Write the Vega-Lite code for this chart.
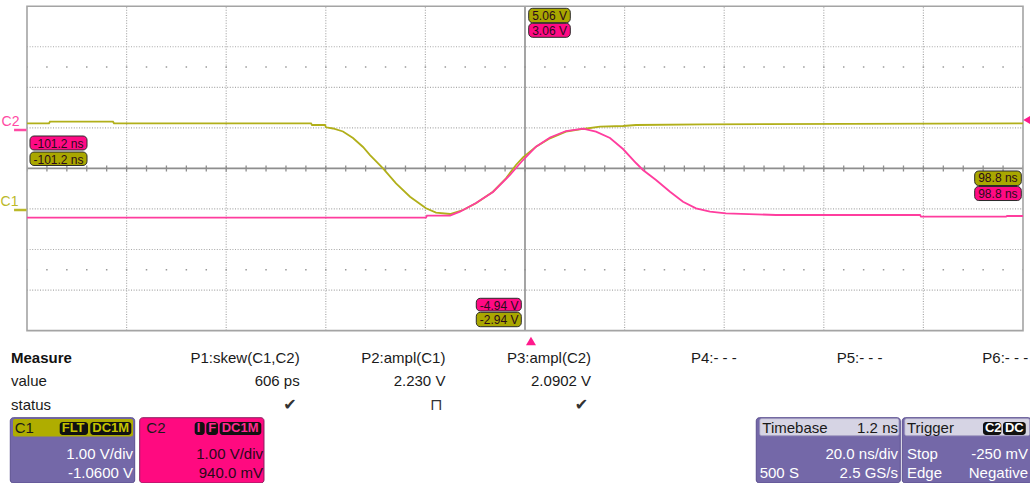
{
  "$schema": "https://vega.github.io/schema/vega-lite/v6.json",
  "background": "white",
  "padding": 0,
  "spacing": 0,
  "bounds": "flush",
  "config": {"view": {"stroke": null}, "font": "Liberation Sans", "text": {"font": "Liberation Sans"}},
  "resolve": {"scale": {"x": "independent", "y": "independent", "color": "independent", "fill": "independent"}},
  "datasets": {
    "vgrid": [{"t": -80}, {"t": -60}, {"t": -40}, {"t": -20}, {"t": 20}, {"t": 40}, {"t": 60}, {"t": 80}],
    "hgrid": [{"v": -3}, {"v": -2}, {"v": -1}, {"v": 1}, {"v": 2}, {"v": 3}],
    "dotrows": [{"v": 2.5}, {"v": -2.5}],
    "traces": [
      {"ch": "C1", "t": -100, "v": 1.112}, {"ch": "C1", "t": -95.58, "v": 1.112}, {"ch": "C1", "t": -95.38, "v": 1.152},
      {"ch": "C1", "t": -82.73, "v": 1.152}, {"ch": "C1", "t": -82.53, "v": 1.112}, {"ch": "C1", "t": -42.97, "v": 1.112},
      {"ch": "C1", "t": -42.77, "v": 1.07}, {"ch": "C1", "t": -40.16, "v": 1.07}, {"ch": "C1", "t": -39.96, "v": 1.014},
      {"ch": "C1", "t": -38.55, "v": 0.984}, {"ch": "C1", "t": -36.55, "v": 0.91}, {"ch": "C1", "t": -34.54, "v": 0.75},
      {"ch": "C1", "t": -32.53, "v": 0.528}, {"ch": "C1", "t": -31.12, "v": 0.33}, {"ch": "C1", "t": -28.51, "v": 0.002},
      {"ch": "C1", "t": -25.9, "v": -0.367}, {"ch": "C1", "t": -23.09, "v": -0.698}, {"ch": "C1", "t": -19.88, "v": -0.984},
      {"ch": "C1", "t": -17.87, "v": -1.092}, {"ch": "C1", "t": -15.06, "v": -1.125}, {"ch": "C1", "t": -12.45, "v": -1.026},
      {"ch": "C1", "t": -9.84, "v": -0.861}, {"ch": "C1", "t": -6.43, "v": -0.575}, {"ch": "C1", "t": -3.82, "v": -0.244},
      {"ch": "C1", "t": -1.81, "v": 0.084}, {"ch": "C1", "t": -0.4, "v": 0.274}, {"ch": "C1", "t": 2.21, "v": 0.535},
      {"ch": "C1", "t": 5.02, "v": 0.742}, {"ch": "C1", "t": 8.23, "v": 0.905}, {"ch": "C1", "t": 11.65, "v": 0.972},
      {"ch": "C1", "t": 15.06, "v": 1.028}, {"ch": "C1", "t": 19.68, "v": 1.046}, {"ch": "C1", "t": 22.29, "v": 1.07},
      {"ch": "C1", "t": 35.74, "v": 1.088}, {"ch": "C1", "t": 100, "v": 1.112},
      {"ch": "C2", "t": -100, "v": -1.216}, {"ch": "C2", "t": -19.88, "v": -1.216}, {"ch": "C2", "t": -19.68, "v": -1.166},
      {"ch": "C2", "t": -15.06, "v": -1.166}, {"ch": "C2", "t": -13.05, "v": -1.068}, {"ch": "C2", "t": -9.84, "v": -0.853},
      {"ch": "C2", "t": -6.43, "v": -0.582}, {"ch": "C2", "t": -3.01, "v": -0.163}, {"ch": "C2", "t": -0.4, "v": 0.207},
      {"ch": "C2", "t": 2.21, "v": 0.535}, {"ch": "C2", "t": 5.02, "v": 0.762}, {"ch": "C2", "t": 8.23, "v": 0.922},
      {"ch": "C2", "t": 11.65, "v": 0.979}, {"ch": "C2", "t": 14.26, "v": 0.905}, {"ch": "C2", "t": 17.07, "v": 0.75},
      {"ch": "C2", "t": 19.68, "v": 0.478}, {"ch": "C2", "t": 22.29, "v": 0.133}, {"ch": "C2", "t": 23.69, "v": -0.039},
      {"ch": "C2", "t": 26.31, "v": -0.286}, {"ch": "C2", "t": 29.12, "v": -0.575}, {"ch": "C2", "t": 31.73, "v": -0.821},
      {"ch": "C2", "t": 34.34, "v": -0.984}, {"ch": "C2", "t": 37.15, "v": -1.068}, {"ch": "C2", "t": 40.36, "v": -1.107},
      {"ch": "C2", "t": 50.4, "v": -1.149}, {"ch": "C2", "t": 79.32, "v": -1.149}, {"ch": "C2", "t": 79.52, "v": -1.191},
      {"ch": "C2", "t": 96.59, "v": -1.191}, {"ch": "C2", "t": 96.79, "v": -1.174}, {"ch": "C2", "t": 100, "v": -1.174}
    ],
    "chlabels": [
      {"ch": "C2", "text": "C2", "t": -103.3, "v": 1.144, "vm": 0.947},
      {"ch": "C1", "text": "C1", "t": -103.5, "v": -0.829, "vm": -1.026}
    ],
    "cursors": [
      {"ch": "C2", "text": "-101.2 ns", "t1": -99.4, "t2": -87.95, "v1": 0.799, "v2": 0.454},
      {"ch": "C1", "text": "-101.2 ns", "t1": -99.4, "t2": -87.95, "v1": 0.404, "v2": 0.072},
      {"ch": "C1", "text": "5.06 V", "t1": 0.743, "t2": 9.096, "v1": 3.948, "v2": 3.593},
      {"ch": "C2", "text": "3.06 V", "t1": 0.743, "t2": 9.096, "v1": 3.578, "v2": 3.233},
      {"ch": "C1", "text": "98.8 ns", "t1": 90.3, "t2": 99.66, "v1": -0.064, "v2": -0.422},
      {"ch": "C2", "text": "98.8 ns", "t1": 90.3, "t2": 99.66, "v1": -0.446, "v2": -0.792},
      {"ch": "C2", "text": "-4.94 V", "t1": -9.78, "t2": -0.743, "v1": -3.203, "v2": -3.517},
      {"ch": "C1", "text": "-2.94 V", "t1": -9.78, "t2": -0.743, "v1": -3.549, "v2": -3.904}
    ],
    "measure": [
      {"col": 2, "header": "P1:skew(C1,C2)", "value": "606 ps", "status": "✔"},
      {"col": 3, "header": "P2:ampl(C1)", "value": "2.230 V", "status": "⊓"},
      {"col": 4, "header": "P3:ampl(C2)", "value": "2.0902 V", "status": "✔"},
      {"col": 5, "header": "P4:- - -", "value": "", "status": ""},
      {"col": 6, "header": "P5:- - -", "value": "", "status": ""},
      {"col": 7, "header": "P6:- - -", "value": "", "status": ""}
    ],
    "rowlabels": [{"label": "value", "r": 1}, {"label": "status", "r": 2.02}],
    "panels": [
      {"panel": "C1", "x1": 0.0137, "x2": 0.8675},
      {"panel": "C2", "x1": 0.9018, "x2": 1.755},
      {"panel": "Timebase", "x1": 5.1338, "x2": 6.1222},
      {"panel": "Trigger", "x1": 6.1359, "x2": 7.0213}
    ],
    "headers": [
      {"panel": "C1", "x1": 0.0323, "x2": 0.8559},
      {"panel": "Timebase", "x1": 5.1572, "x2": 6.1133},
      {"panel": "Trigger", "x1": 6.1524, "x2": 7.0103}
    ],
    "badges": [
      {"panel": "C1", "text": "FLT", "x1": 0.3528, "x2": 0.547},
      {"panel": "C1", "text": "DC1M", "x1": 0.5628, "x2": 0.8442},
      {"panel": "C2", "text": "I", "x1": 1.2793, "x2": 1.348},
      {"panel": "C2", "text": "F", "x1": 1.359, "x2": 1.4393},
      {"panel": "C2", "text": "DC1M", "x1": 1.4509, "x2": 1.7364},
      {"panel": "Trigger", "text": "C2", "x1": 6.6898, "x2": 6.8154},
      {"panel": "Trigger", "text": "DC", "x1": 6.8271, "x2": 6.9835}
    ],
    "htext": [
      {"panel": "C1", "text": "C1", "u": 0.0439, "anchor": "start"},
      {"panel": "C2", "text": "C2", "u": 0.9472, "anchor": "start"},
      {"panel": "Timebase", "text": "Timebase", "u": 5.175, "anchor": "start"},
      {"panel": "Timebase", "text": "1.2 ns", "u": 6.1064, "anchor": "end"},
      {"panel": "Trigger", "text": "Trigger", "u": 6.1682, "anchor": "start"}
    ],
    "ptext": [
      {"panel": "C1", "text": "1.00 V/div", "u": 0.8559, "r": 4.1, "anchor": "end"},
      {"panel": "C1", "text": "-1.0600 V", "u": 0.8559, "r": 4.93, "anchor": "end"},
      {"panel": "C2", "text": "1.00 V/div", "u": 1.7481, "r": 4.1, "anchor": "end"},
      {"panel": "C2", "text": "940.0 mV", "u": 1.7481, "r": 4.93, "anchor": "end"},
      {"panel": "Timebase", "text": "20.0 ns/div", "u": 6.1064, "r": 4.1, "anchor": "end"},
      {"panel": "Timebase", "text": "500 S", "u": 5.1572, "r": 4.93, "anchor": "start"},
      {"panel": "Timebase", "text": "2.5 GS/s", "u": 6.1064, "r": 4.93, "anchor": "end"},
      {"panel": "Trigger", "text": "Stop", "u": 6.1682, "r": 4.1, "anchor": "start"},
      {"panel": "Trigger", "text": "-250 mV", "u": 6.9986, "r": 4.1, "anchor": "end"},
      {"panel": "Trigger", "text": "Edge", "u": 6.1682, "r": 4.93, "anchor": "start"},
      {"panel": "Trigger", "text": "Negative", "u": 6.9986, "r": 4.93, "anchor": "end"}
    ]
  },
  "vconcat": [
    {
      "width": 1030,
      "height": 345,
      "layer": [
        {
          "data": {"name": "vgrid"},
          "mark": {"type": "rule", "color": "#a8a8a8", "strokeWidth": 1.2, "strokeDash": [1, 1.6]},
          "encoding": {
            "x": {"field": "t", "type": "quantitative", "scale": {"domain": [-104.819, 102.008], "nice": false, "zero": false}, "axis": null},
            "y": {"datum": -4, "type": "quantitative", "scale": {"domain": [-4.3551, 4.1529], "nice": false, "zero": false}, "axis": null},
            "y2": {"datum": 4}
          }
        },
        {
          "data": {"name": "hgrid"},
          "mark": {"type": "rule", "color": "#a8a8a8", "strokeWidth": 1.2, "strokeDash": [1, 1.6]},
          "encoding": {
            "y": {"field": "v", "type": "quantitative", "scale": {"domain": [-4.3551, 4.1529], "nice": false, "zero": false}, "axis": null},
            "x": {"datum": -100, "type": "quantitative", "scale": {"domain": [-104.819, 102.008], "nice": false, "zero": false}, "axis": null},
            "x2": {"datum": 100}
          }
        },
        {
          "data": {"name": "dotrows"},
          "mark": {"type": "rule", "color": "#9a9a9a", "strokeWidth": 1.5, "strokeDash": [1.5, 18.42], "strokeDashOffset": 0.75, "strokeCap": "butt"},
          "encoding": {
            "y": {"field": "v", "type": "quantitative", "scale": {"domain": [-4.3551, 4.1529], "nice": false, "zero": false}, "axis": null},
            "x": {"datum": -100, "type": "quantitative", "scale": {"domain": [-104.819, 102.008], "nice": false, "zero": false}, "axis": null},
            "x2": {"datum": 100}
          }
        },
        {
          "data": {"values": [{}]},
          "mark": {"type": "rule", "color": "#8e8e8e", "strokeWidth": 1.6},
          "encoding": {
            "x": {"datum": 0, "type": "quantitative", "scale": {"domain": [-104.819, 102.008], "nice": false, "zero": false}, "axis": null},
            "y": {"datum": -4, "type": "quantitative", "scale": {"domain": [-4.3551, 4.1529], "nice": false, "zero": false}, "axis": null},
            "y2": {"datum": 4}
          }
        },
        {
          "data": {"values": [{}]},
          "mark": {"type": "rule", "color": "#8e8e8e", "strokeWidth": 1.6},
          "encoding": {
            "y": {"datum": 0, "type": "quantitative", "scale": {"domain": [-4.3551, 4.1529], "nice": false, "zero": false}, "axis": null},
            "x": {"datum": -100, "type": "quantitative", "scale": {"domain": [-104.819, 102.008], "nice": false, "zero": false}, "axis": null},
            "x2": {"datum": 100}
          }
        },
        {
          "data": {"values": [{}]},
          "mark": {"type": "rule", "color": "#8e8e8e", "strokeWidth": 6, "strokeDash": [1.3, 18.62], "strokeDashOffset": 0.65, "strokeCap": "butt"},
          "encoding": {
            "y": {"datum": 0, "type": "quantitative", "scale": {"domain": [-4.3551, 4.1529], "nice": false, "zero": false}, "axis": null},
            "x": {"datum": -100, "type": "quantitative", "scale": {"domain": [-104.819, 102.008], "nice": false, "zero": false}, "axis": null},
            "x2": {"datum": 100}
          }
        },
        {
          "data": {"values": [{}]},
          "mark": {"type": "rect", "fill": null, "fillOpacity": 0, "stroke": "#a4a4a4", "strokeWidth": 1.6},
          "encoding": {
            "x": {"datum": -100, "type": "quantitative", "scale": {"domain": [-104.819, 102.008], "nice": false, "zero": false}, "axis": null},
            "x2": {"datum": 100},
            "y": {"datum": -4, "type": "quantitative", "scale": {"domain": [-4.3551, 4.1529], "nice": false, "zero": false}, "axis": null},
            "y2": {"datum": 4}
          }
        },
        {
          "data": {"name": "traces"},
          "transform": [{"filter": "datum.ch === 'C1'"}],
          "mark": {"type": "line", "strokeWidth": 1.8, "color": "#b1af1a"},
          "encoding": {
            "x": {"field": "t", "type": "quantitative", "scale": {"domain": [-104.819, 102.008], "nice": false, "zero": false}, "axis": null},
            "y": {"field": "v", "type": "quantitative", "scale": {"domain": [-4.3551, 4.1529], "nice": false, "zero": false}, "axis": null}
          }
        },
        {
          "data": {"name": "traces"},
          "transform": [{"filter": "datum.ch === 'C2'"}],
          "mark": {"type": "line", "strokeWidth": 1.8, "color": "#ff3d9e"},
          "encoding": {
            "x": {"field": "t", "type": "quantitative", "scale": {"domain": [-104.819, 102.008], "nice": false, "zero": false}, "axis": null},
            "y": {"field": "v", "type": "quantitative", "scale": {"domain": [-4.3551, 4.1529], "nice": false, "zero": false}, "axis": null}
          }
        },
        {
          "data": {"name": "chlabels"},
          "mark": {"type": "text", "fontSize": 14, "align": "center", "baseline": "middle"},
          "encoding": {
            "x": {"field": "t", "type": "quantitative", "scale": {"domain": [-104.819, 102.008], "nice": false, "zero": false}, "axis": null},
            "y": {"field": "v", "type": "quantitative", "scale": {"domain": [-4.3551, 4.1529], "nice": false, "zero": false}, "axis": null},
            "text": {"field": "text"},
            "color": {"field": "ch", "type": "nominal", "scale": {"domain": ["C1", "C2"], "range": ["#bbb92a", "#ff4aa4"]}, "legend": null}
          }
        },
        {
          "data": {"name": "chlabels"},
          "mark": {"type": "rule", "strokeWidth": 2.5},
          "encoding": {
            "x": {"datum": -102.6, "type": "quantitative", "scale": {"domain": [-104.819, 102.008], "nice": false, "zero": false}, "axis": null},
            "x2": {"datum": -100.1},
            "y": {"field": "vm", "type": "quantitative", "scale": {"domain": [-4.3551, 4.1529], "nice": false, "zero": false}, "axis": null},
            "color": {"field": "ch", "type": "nominal", "scale": {"domain": ["C1", "C2"], "range": ["#bbb92a", "#ff4aa4"]}, "legend": null}
          }
        },
        {
          "data": {"name": "cursors"},
          "mark": {"type": "rect", "stroke": "#2a2a2a", "strokeWidth": 1, "cornerRadius": 4},
          "encoding": {
            "x": {"field": "t1", "type": "quantitative", "scale": {"domain": [-104.819, 102.008], "nice": false, "zero": false}, "axis": null},
            "x2": {"field": "t2"},
            "y": {"field": "v1", "type": "quantitative", "scale": {"domain": [-4.3551, 4.1529], "nice": false, "zero": false}, "axis": null},
            "y2": {"field": "v2"},
            "fill": {"field": "ch", "type": "nominal", "scale": {"domain": ["C1", "C2"], "range": ["#a9a700", "#ff0a84"]}, "legend": null}
          }
        },
        {
          "data": {"name": "cursors"},
          "mark": {"type": "text", "fontSize": 12, "align": "left", "baseline": "middle", "dx": 3.5, "dy": 7.5, "color": "#2a0a1a"},
          "encoding": {
            "x": {"field": "t1", "type": "quantitative", "scale": {"domain": [-104.819, 102.008], "nice": false, "zero": false}, "axis": null},
            "y": {"field": "v1", "type": "quantitative", "scale": {"domain": [-4.3551, 4.1529], "nice": false, "zero": false}, "axis": null},
            "text": {"field": "text"}
          }
        },
        {
          "data": {"values": [{}]},
          "mark": {"type": "point", "shape": "triangle-left", "filled": true, "color": "#ff1a8c", "size": 120, "opacity": 1},
          "encoding": {
            "x": {"datum": 101.0, "type": "quantitative", "scale": {"domain": [-104.819, 102.008], "nice": false, "zero": false}, "axis": null},
            "y": {"datum": 1.194, "type": "quantitative", "scale": {"domain": [-4.3551, 4.1529], "nice": false, "zero": false}, "axis": null}
          }
        },
        {
          "data": {"values": [{}]},
          "mark": {"type": "point", "shape": "triangle-up", "filled": true, "color": "#ff1a8c", "size": 100, "opacity": 1},
          "encoding": {
            "x": {"datum": 1.2, "type": "quantitative", "scale": {"domain": [-104.819, 102.008], "nice": false, "zero": false}, "axis": null},
            "y": {"datum": -4.256, "type": "quantitative", "scale": {"domain": [-4.3551, 4.1529], "nice": false, "zero": false}, "axis": null}
          }
        }
      ]
    },
    {
      "width": 1030,
      "height": 138,
      "layer": [
        {
          "data": {"name": "measure"},
          "mark": {"type": "text", "fontSize": 15, "align": "right", "baseline": "middle", "color": "#1a1a1a"},
          "encoding": {
            "x": {"field": "col", "type": "quantitative", "scale": {"domain": [-0.03638, 7.0331], "nice": false, "zero": false}, "axis": null},
            "y": {"datum": 0, "type": "quantitative", "scale": {"domain": [-0.532, 5.34], "nice": false, "zero": false, "reverse": true}, "axis": null},
            "text": {"field": "header"}
          }
        },
        {
          "data": {"name": "measure"},
          "mark": {"type": "text", "fontSize": 15, "align": "right", "baseline": "middle", "color": "#1a1a1a"},
          "encoding": {
            "x": {"field": "col", "type": "quantitative", "scale": {"domain": [-0.03638, 7.0331], "nice": false, "zero": false}, "axis": null},
            "y": {"datum": 1, "type": "quantitative", "scale": {"domain": [-0.532, 5.34], "nice": false, "zero": false, "reverse": true}, "axis": null},
            "text": {"field": "value"}
          }
        },
        {
          "data": {"name": "measure"},
          "mark": {"type": "text", "font": "DejaVu Sans", "fontSize": 16, "align": "right", "baseline": "middle", "color": "#333333", "dx": -3},
          "encoding": {
            "x": {"field": "col", "type": "quantitative", "scale": {"domain": [-0.03638, 7.0331], "nice": false, "zero": false}, "axis": null},
            "y": {"datum": 2.02, "type": "quantitative", "scale": {"domain": [-0.532, 5.34], "nice": false, "zero": false, "reverse": true}, "axis": null},
            "text": {"field": "status"}
          }
        },
        {
          "data": {"values": [{}]},
          "mark": {"type": "text", "fontSize": 15, "fontWeight": "bold", "align": "left", "baseline": "middle", "color": "#111111", "text": "Measure"},
          "encoding": {
            "x": {"datum": 0.0185, "type": "quantitative", "scale": {"domain": [-0.03638, 7.0331], "nice": false, "zero": false}, "axis": null},
            "y": {"datum": 0, "type": "quantitative", "scale": {"domain": [-0.532, 5.34], "nice": false, "zero": false, "reverse": true}, "axis": null}
          }
        },
        {
          "data": {"name": "rowlabels"},
          "mark": {"type": "text", "fontSize": 15, "align": "left", "baseline": "middle", "color": "#1a1a1a"},
          "encoding": {
            "x": {"datum": 0.0185, "type": "quantitative", "scale": {"domain": [-0.03638, 7.0331], "nice": false, "zero": false}, "axis": null},
            "y": {"field": "r", "type": "quantitative", "scale": {"domain": [-0.532, 5.34], "nice": false, "zero": false, "reverse": true}, "axis": null},
            "text": {"field": "label"}
          }
        },
        {
          "data": {"name": "panels"},
          "transform": [{"filter": "datum.panel !== 'C2'"}],
          "mark": {"type": "rect", "fill": "#7468a8", "stroke": "#5a4e8e", "strokeWidth": 1, "cornerRadius": 3},
          "encoding": {
            "x": {"field": "x1", "type": "quantitative", "scale": {"domain": [-0.03638, 7.0331], "nice": false, "zero": false}, "axis": null},
            "x2": {"field": "x2"},
            "y": {"datum": 2.5617, "type": "quantitative", "scale": {"domain": [-0.532, 5.34], "nice": false, "zero": false, "reverse": true}, "axis": null},
            "y2": {"datum": 5.34}
          }
        },
        {
          "data": {"name": "panels"},
          "transform": [{"filter": "datum.panel === 'C2'"}],
          "mark": {"type": "rect", "fill": "#ff0a80", "stroke": "#8a2060", "strokeWidth": 1, "cornerRadius": 3},
          "encoding": {
            "x": {"field": "x1", "type": "quantitative", "scale": {"domain": [-0.03638, 7.0331], "nice": false, "zero": false}, "axis": null},
            "x2": {"field": "x2"},
            "y": {"datum": 2.5617, "type": "quantitative", "scale": {"domain": [-0.532, 5.34], "nice": false, "zero": false, "reverse": true}, "axis": null},
            "y2": {"datum": 5.34}
          }
        },
        {
          "data": {"name": "headers"},
          "transform": [{"filter": "datum.panel === 'C1'"}],
          "mark": {"type": "rect", "fill": "#afad00", "cornerRadius": 2},
          "encoding": {
            "x": {"field": "x1", "type": "quantitative", "scale": {"domain": [-0.03638, 7.0331], "nice": false, "zero": false}, "axis": null},
            "x2": {"field": "x2"},
            "y": {"datum": 2.62, "type": "quantitative", "scale": {"domain": [-0.532, 5.34], "nice": false, "zero": false, "reverse": true}, "axis": null},
            "y2": {"datum": 3.36}
          }
        },
        {
          "data": {"name": "headers"},
          "transform": [{"filter": "datum.panel !== 'C1'"}],
          "mark": {"type": "rect", "fill": "#d6d4e4", "stroke": "#9a94bc", "strokeWidth": 0.8, "cornerRadius": 2},
          "encoding": {
            "x": {"field": "x1", "type": "quantitative", "scale": {"domain": [-0.03638, 7.0331], "nice": false, "zero": false}, "axis": null},
            "x2": {"field": "x2"},
            "y": {"datum": 2.6, "type": "quantitative", "scale": {"domain": [-0.532, 5.34], "nice": false, "zero": false, "reverse": true}, "axis": null},
            "y2": {"datum": 3.33}
          }
        },
        {
          "data": {"name": "badges"},
          "mark": {"type": "rect", "fill": "#111111", "cornerRadius": 3},
          "encoding": {
            "x": {"field": "x1", "type": "quantitative", "scale": {"domain": [-0.03638, 7.0331], "nice": false, "zero": false}, "axis": null},
            "x2": {"field": "x2"},
            "y": {"datum": 2.74, "type": "quantitative", "scale": {"domain": [-0.532, 5.34], "nice": false, "zero": false, "reverse": true}, "axis": null},
            "y2": {"datum": 3.3}
          }
        },
        {
          "data": {"name": "badges"},
          "mark": {"type": "text", "fontSize": 13, "fontWeight": "bold", "align": "left", "baseline": "middle", "dx": 2},
          "encoding": {
            "x": {"field": "x1", "type": "quantitative", "scale": {"domain": [-0.03638, 7.0331], "nice": false, "zero": false}, "axis": null},
            "y": {"datum": 3.02, "type": "quantitative", "scale": {"domain": [-0.532, 5.34], "nice": false, "zero": false, "reverse": true}, "axis": null},
            "text": {"field": "text"},
            "color": {"field": "panel", "type": "nominal", "scale": {"domain": ["C1", "C2", "Trigger"], "range": ["#c4c200", "#ff2a90", "#ffffff"]}, "legend": null}
          }
        },
        {
          "data": {"name": "htext"},
          "transform": [{"filter": "datum.anchor === 'start'"}],
          "mark": {"type": "text", "fontSize": 15, "align": "left", "baseline": "middle", "color": "#1a1a1a"},
          "encoding": {
            "x": {"field": "u", "type": "quantitative", "scale": {"domain": [-0.03638, 7.0331], "nice": false, "zero": false}, "axis": null},
            "y": {"datum": 2.98, "type": "quantitative", "scale": {"domain": [-0.532, 5.34], "nice": false, "zero": false, "reverse": true}, "axis": null},
            "text": {"field": "text"}
          }
        },
        {
          "data": {"name": "htext"},
          "transform": [{"filter": "datum.anchor === 'end'"}],
          "mark": {"type": "text", "fontSize": 15, "align": "right", "baseline": "middle", "color": "#1a1a1a"},
          "encoding": {
            "x": {"field": "u", "type": "quantitative", "scale": {"domain": [-0.03638, 7.0331], "nice": false, "zero": false}, "axis": null},
            "y": {"datum": 2.98, "type": "quantitative", "scale": {"domain": [-0.532, 5.34], "nice": false, "zero": false, "reverse": true}, "axis": null},
            "text": {"field": "text"}
          }
        },
        {
          "data": {"name": "ptext"},
          "transform": [{"filter": "datum.anchor === 'end' && datum.panel !== 'C2'"}],
          "mark": {"type": "text", "fontSize": 15, "align": "right", "baseline": "middle", "color": "#ffffff"},
          "encoding": {
            "x": {"field": "u", "type": "quantitative", "scale": {"domain": [-0.03638, 7.0331], "nice": false, "zero": false}, "axis": null},
            "y": {"field": "r", "type": "quantitative", "scale": {"domain": [-0.532, 5.34], "nice": false, "zero": false, "reverse": true}, "axis": null},
            "text": {"field": "text"}
          }
        },
        {
          "data": {"name": "ptext"},
          "transform": [{"filter": "datum.panel === 'C2'"}],
          "mark": {"type": "text", "fontSize": 15, "align": "right", "baseline": "middle", "color": "#2a0818"},
          "encoding": {
            "x": {"field": "u", "type": "quantitative", "scale": {"domain": [-0.03638, 7.0331], "nice": false, "zero": false}, "axis": null},
            "y": {"field": "r", "type": "quantitative", "scale": {"domain": [-0.532, 5.34], "nice": false, "zero": false, "reverse": true}, "axis": null},
            "text": {"field": "text"}
          }
        },
        {
          "data": {"name": "ptext"},
          "transform": [{"filter": "datum.anchor === 'start'"}],
          "mark": {"type": "text", "fontSize": 15, "align": "left", "baseline": "middle", "color": "#ffffff"},
          "encoding": {
            "x": {"field": "u", "type": "quantitative", "scale": {"domain": [-0.03638, 7.0331], "nice": false, "zero": false}, "axis": null},
            "y": {"field": "r", "type": "quantitative", "scale": {"domain": [-0.532, 5.34], "nice": false, "zero": false, "reverse": true}, "axis": null},
            "text": {"field": "text"}
          }
        }
      ]
    }
  ]
}
